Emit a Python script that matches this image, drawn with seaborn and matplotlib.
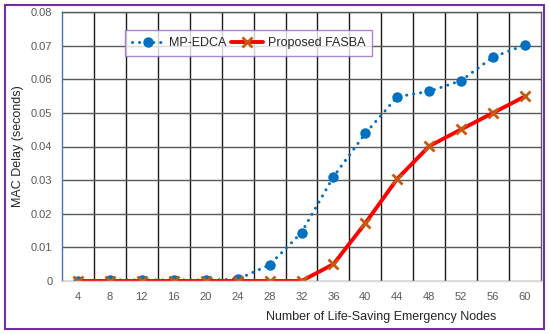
import numpy as np
import pandas as pd
import matplotlib
matplotlib.use("Agg")
import matplotlib.pyplot as plt
import seaborn as sns
from matplotlib.patches import Rectangle
from matplotlib.ticker import FuncFormatter, FixedLocator

# Data
nodes = ["4", "8", "12", "16", "20", "24", "28", "32", "36", "40", "44", "48", "52", "56", "60"]
mp_edca = [0.0, 0.0003, 0.0003, 0.0003, 0.0003, 0.0005, 0.0048, 0.0144, 0.031, 0.0439,
           0.0548, 0.0564, 0.0596, 0.0666, 0.0702]
fasba = [0.0, 0.0, 0.0, 0.0, 0.0, 0.0, 0.0, 0.0, 0.005, 0.0172,
         0.0304, 0.0401, 0.0451, 0.050, 0.0549]
y_ticks = [0, 0.01, 0.02, 0.03, 0.04, 0.05, 0.06, 0.07, 0.08]

data = pd.DataFrame({"Nodes": nodes, "MP-EDCA": mp_edca, "Proposed FASBA": fasba})

sns.set_style("white")
plt.rcParams["font.family"] = ["Liberation Sans", "DejaVu Sans"]

fig = plt.figure(figsize=(5.5, 3.34), dpi=100)
ax = fig.add_axes([62 / 550, 1 - 281 / 334, 479 / 550, 269 / 334])

# MP-EDCA: blue dotted line with round markers
sns.lineplot(data=data, x="Nodes", y="MP-EDCA", ax=ax, color="#0070C0",
             linewidth=2.2, linestyle=(0, (0.01, 2.3)), dash_capstyle="round",
             marker="o", markersize=7.5, markeredgewidth=0, label="MP-EDCA",
             sort=False)
# Proposed FASBA: red solid line with orange x markers
sns.lineplot(data=data, x="Nodes", y="Proposed FASBA", ax=ax, color="#FF0000",
             linewidth=2.8, marker="x", markersize=7, markeredgewidth=2,
             markeredgecolor="#C55A11", label="Proposed FASBA", sort=False)

n = len(nodes)
ax.set_xlim(-0.5, n - 0.5)
ax.set_ylim(0, 0.08)
ax.yaxis.set_major_locator(FixedLocator(y_ticks))
ax.yaxis.set_major_formatter(FuncFormatter(lambda v, p: "0" if v == 0 else f"{v:.2f}"))

# vertical gridlines between categories, horizontal at y ticks
ax.xaxis.set_minor_locator(FixedLocator(np.arange(0.5, n - 0.5, 1.0)))
ax.grid(which="minor", axis="x", color="#1a1a1a", linewidth=1.0)
ax.grid(which="major", axis="y", color="#595959", linewidth=1.0)
ax.grid(which="major", axis="x", visible=False)
ax.set_axisbelow(True)

ax.tick_params(axis="both", which="both", length=0, labelsize=8, labelcolor="#595959")
ax.tick_params(axis="x", pad=8)
ax.tick_params(axis="y", pad=7)

for side in ["top", "right"]:
    ax.spines[side].set_visible(True)
    ax.spines[side].set_color("#595959")
    ax.spines[side].set_linewidth(1.0)
ax.spines["left"].set_color("#4472C4")
ax.spines["left"].set_linewidth(1.0)
ax.spines["bottom"].set_color("#D9D9D9")
ax.spines["bottom"].set_linewidth(1.0)

ax.set_xlabel("Number of Life-Saving Emergency Nodes", fontsize=9, color="#262626")
ax.xaxis.set_label_coords(0.666, -0.113)
ax.set_ylabel("MAC Delay (seconds)", fontsize=9, color="#262626")
ax.yaxis.set_label_coords(-0.08, 0.5)

leg = ax.legend(loc="upper left", bbox_to_anchor=(125 / 550, 1 - 30 / 334),
                bbox_transform=fig.transFigure, ncol=2, frameon=True, fancybox=False,
                fontsize=9, handlelength=2.6, handletextpad=0.4, columnspacing=0.3,
                borderpad=0.55, borderaxespad=0)
leg.get_frame().set_edgecolor("#9966CC")
leg.get_frame().set_linewidth(1.0)
for t in leg.get_texts():
    t.set_color("#262626")

# purple border around the whole figure
fig.patches.append(Rectangle((5 / 550, 5 / 334), 539 / 550, 324 / 334,
                             transform=fig.transFigure, fill=False,
                             edgecolor="#7030A0", linewidth=1.5))

fig.savefig("out.png", dpi=100)
